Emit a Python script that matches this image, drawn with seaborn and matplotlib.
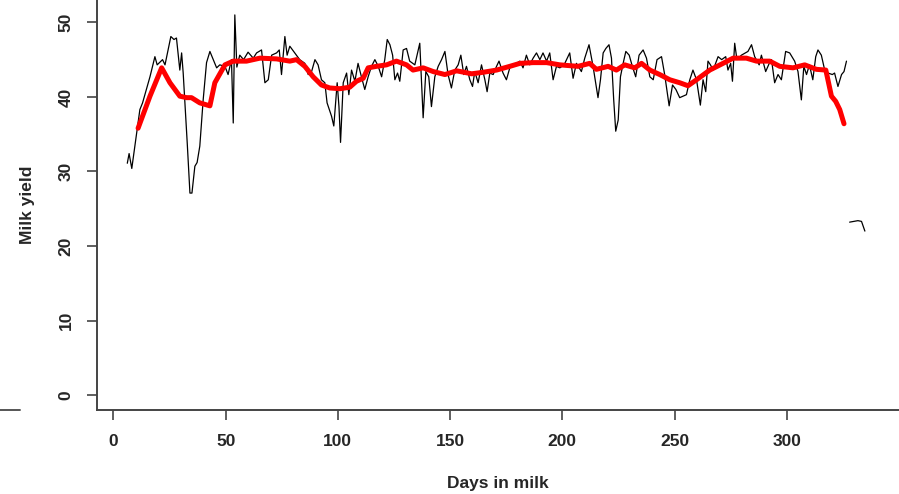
import matplotlib
matplotlib.use("Agg")
import matplotlib.pyplot as plt
from matplotlib.lines import Line2D
import seaborn as sns

# Daily milk yield (black)
days = [6.2, 7.0, 8.2, 11.8, 13.0, 16.3, 18.5, 19.5, 21.9, 23.0, 25.6, 27.0, 28.1, 29.6, 30.4,
        31.1, 32.9, 34.1, 35.0, 36.3, 37.3, 38.5, 40.0, 41.5, 43.0, 44.5, 46.0, 47.4, 49.7,
        51.1, 52.6, 53.4, 54.1, 55.0, 56.3, 58.0, 60.0, 62.3, 63.8, 66.0, 67.5, 69.0, 70.5,
        72.7, 73.9, 74.9, 76.4, 77.4, 78.6, 80.8, 83.0, 85.3, 86.8, 88.3, 89.8, 91.2, 92.7,
        94.2, 95.2, 97.2, 98.2, 99.7, 100.5, 101.2, 102.4, 103.9, 104.9, 106.1, 107.6, 109.0,
        110.5, 112.0, 113.5, 115.0, 116.5, 118.0, 119.5, 120.9, 122.0, 123.2, 124.4, 125.4,
        126.6, 127.6, 129.1, 130.6, 132.0, 134.3, 136.5, 138.0, 139.2, 140.5, 141.7, 143.2,
        144.7, 146.2, 147.7, 149.1, 150.6, 152.1, 153.6, 154.8, 156.1, 157.3, 158.8, 160.0,
        161.0, 162.5, 164.0, 165.5, 166.5, 167.7, 169.2, 170.7, 171.8, 173.6, 175.1, 176.6,
        178.1, 179.6, 181.1, 182.5, 184.0, 185.5, 187.0, 188.5, 190.0, 191.4, 193.0, 194.4,
        195.9, 197.4, 198.9, 200.8, 203.3, 204.8, 206.3, 208.5, 210.0, 211.9, 213.7, 215.9,
        217.0, 218.2, 219.4, 220.8, 221.9, 222.9, 223.8, 224.9, 225.9, 227.1, 228.3, 229.8,
        231.2, 232.7, 234.2, 236.0, 237.5, 239.0, 240.5, 242.2, 244.2, 245.6, 247.6, 249.1,
        250.6, 252.3, 253.8, 255.3, 256.8, 258.2, 259.8, 261.5, 262.7, 263.9, 264.9, 266.0,
        267.2, 269.4, 271.0, 272.8, 273.8, 275.0, 275.8, 276.8, 277.8, 279.8, 282.7, 284.3,
        285.7, 287.7, 288.7, 290.6, 292.2, 293.2, 294.6, 296.1, 297.6, 299.5, 301.3, 303.5,
        305.0, 306.5, 307.6, 308.8, 310.1, 311.6, 312.9, 313.9, 315.4, 316.9, 318.4, 320.3,
        321.3, 322.8, 324.4, 325.5, 326.6]
milk_yield = [31.1, 32.4, 30.4, 38.3, 39.2, 42.7, 45.4, 44.3, 45.0, 44.3, 48.1, 47.7, 47.9, 43.6, 45.9,
              43.2, 33.8, 27.1, 27.1, 30.7, 31.2, 33.4, 39.6, 44.6, 46.1, 45.0, 43.9, 44.3, 44.1,
              43.0, 45.0, 36.5, 51.0, 44.0, 45.6, 45.0, 46.0, 45.2, 45.9, 46.3, 41.9, 42.3, 45.6,
              45.9, 46.3, 43.0, 48.1, 45.6, 46.8, 45.9, 45.0, 44.5, 43.0, 43.4, 45.0, 44.3, 42.3,
              41.9, 39.2, 37.4, 36.1, 41.9, 38.7, 33.9, 41.9, 43.2, 40.3, 43.6, 42.1, 44.5,
              42.7, 41.0, 42.7, 44.1, 45.0, 44.1, 42.7, 45.0, 47.7, 47.0, 45.6, 42.3,
              43.2, 42.1, 46.3, 46.5, 44.8, 44.3, 47.2, 37.2, 43.4, 42.7, 38.7, 42.7,
              44.1, 45.0, 46.1, 43.0, 41.2, 43.6, 44.3, 45.6, 43.0, 44.1, 42.3, 41.4,
              43.4, 41.9, 44.3, 42.3, 40.7, 43.2, 43.0, 44.1, 44.8, 43.2, 42.3, 43.9,
              44.3, 44.5, 44.8, 43.9, 45.6, 44.3, 45.2, 45.9, 45.0, 45.9, 44.8, 45.9,
              42.3, 44.1, 43.9, 44.3, 45.9, 42.5, 44.5, 43.4, 45.2, 47.0, 44.1, 39.9,
              42.3, 45.9, 46.5, 47.0, 45.2, 39.6, 35.4, 36.9, 42.7, 44.5, 46.1, 45.6,
              44.1, 42.7, 45.6, 46.3, 45.2, 42.7, 42.3, 45.0, 45.4, 43.0, 38.8, 41.6,
              41.0, 39.9, 40.1, 40.3, 42.3, 43.6, 42.3, 38.9, 42.3, 40.7, 44.8, 44.3,
              43.6, 45.4, 45.0, 45.4, 43.6, 44.5, 42.1, 47.2, 45.0, 45.6, 46.1, 47.0,
              45.4, 44.3, 45.6, 43.4, 44.5, 45.0, 41.9, 43.0, 42.3, 46.1, 45.9, 44.8,
              43.4, 39.6, 44.1, 43.0, 44.3, 42.3, 45.4, 46.3, 45.6, 43.6, 43.2, 43.0,
              43.2, 41.4, 43.0, 43.4, 44.8]

# short piece after the gap
tail_days = [328.0, 331.7, 333.3, 334.8]
tail_yield = [23.2, 23.4, 23.3, 22.0]

# smoothed curve (red)
smooth_days = [11.0, 16.3, 21.5, 25.2, 29.6, 32.6, 34.8, 38.5, 43.0, 45.2, 49.7, 53.4, 59.3,
               65.3, 72.7, 78.6, 81.6, 85.3, 89.0, 92.7, 96.4, 100.9, 105.3, 108.3, 111.3,
               113.5, 117.2, 121.7, 126.1, 130.6, 133.5, 138.0, 142.5, 147.7, 152.9, 159.6,
               164.7, 170.7, 176.6, 181.1, 187.0, 193.0, 198.9, 207.0, 212.2, 215.2, 220.4,
               224.1, 227.8, 232.3, 235.3, 239.0, 243.4, 247.9, 252.3, 256.0, 259.8, 265.7,
               271.6, 276.1, 282.0, 286.5, 292.4, 296.9, 302.8, 308.0, 313.2, 317.4, 319.9,
               321.8, 323.6, 325.5]
smooth_yield = [35.8, 40.1, 43.9, 41.9, 40.1, 39.9, 39.9, 39.2, 38.8, 41.9, 44.3, 44.8, 44.8,
                45.2, 45.1, 44.8, 45.0, 44.1, 42.7, 41.6, 41.2, 41.1, 41.3, 42.1, 42.5,
                43.9, 44.1, 44.3, 44.8, 44.3, 43.6, 43.9, 43.4, 43.0, 43.5, 43.1,
                43.3, 43.6, 44.1, 44.5, 44.6, 44.6, 44.3, 44.1, 44.5, 43.7, 44.1,
                43.6, 44.3, 43.9, 44.5, 43.6, 43.0, 42.3, 41.9, 41.5, 42.3, 43.6,
                44.5, 45.2, 45.2, 44.8, 44.8, 44.1, 43.9, 44.3, 43.7, 43.6, 40.1,
                39.4, 38.3, 36.4]

x_ticks = [0, 50, 100, 150, 200, 250, 300]
y_ticks = [0, 10, 20, 30, 40, 50]

sns.set_style("white")
plt.rcParams["font.family"] = ["Liberation Sans", "DejaVu Sans"]

fig = plt.figure(figsize=(8.99, 4.94), dpi=100)
ax = fig.add_axes([97 / 899, 84 / 494, 802 / 899, 410 / 494])

sns.lineplot(x=days, y=milk_yield, color="black", linewidth=0.9, sort=False,
             estimator=None, ax=ax)
sns.lineplot(x=tail_days, y=tail_yield, color="black", linewidth=0.9, sort=False,
             estimator=None, ax=ax)
sns.lineplot(x=smooth_days, y=smooth_yield, color="#ff0000", linewidth=3.6, sort=False,
             estimator=None, ax=ax)

ax.set_xlim(-7.3, 350)
ax.set_ylim(-2.0, 53.0)
ax.set_xticks(x_ticks)
ax.set_yticks(y_ticks)
ax.set_yticklabels([str(v) for v in y_ticks], rotation=90, va="center")

for side in ["top", "right"]:
    ax.spines[side].set_visible(False)
for side in ["left", "bottom"]:
    ax.spines[side].set_color("#444444")
    ax.spines[side].set_linewidth(1.4)

ax.tick_params(axis="both", direction="out", length=7, width=1.2, color="#444444",
               labelsize=12.5, pad=10, left=True, bottom=True)
for lbl in ax.get_xticklabels() + ax.get_yticklabels():
    lbl.set_fontweight("bold")

ax.set_xlabel("Days in milk", fontsize=12.5, fontweight="bold", labelpad=20)
ax.set_ylabel("Milk yield", fontsize=12.5, fontweight="bold", labelpad=17)

# bit of the neighbouring panel's axis at the left edge
fig.add_artist(Line2D([0, 20 / 899], [84 / 494, 84 / 494], color="#555555", linewidth=1.4))

fig.savefig("out.png", dpi=100)
